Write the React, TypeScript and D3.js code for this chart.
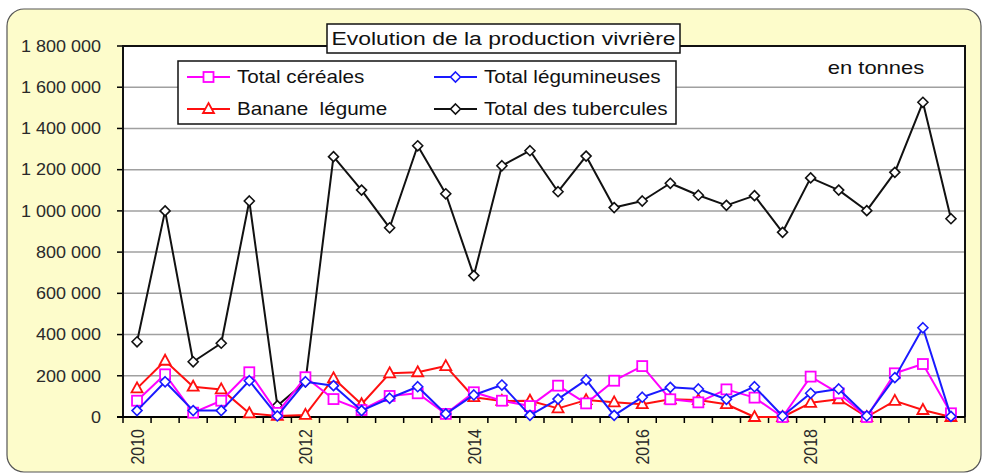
import React from "react";
import * as d3 from "d3";

const categories = [
  "2010", "2010", "2010", "2011", "2011", "2011",
  "2012", "2012", "2012", "2013", "2013", "2013",
  "2014", "2014", "2014", "2015", "2015", "2015",
  "2016", "2016", "2016", "2017", "2017", "2017",
  "2018", "2018", "2018", "2019", "2019", "2019",
];

const cereales = [79000, 207000, 21000, 79000, 217000, 20000, 193000, 87000, 34000, 102000, 115000, 15000, 120000, 79000, 53000, 152000, 66000, 176000, 247000, 86000, 71000, 134000, 94000, 0, 196000, 115000, 0, 212000, 257000, 18000];
const legumineuses = [31000, 171000, 31000, 31000, 176000, 5000, 171000, 152000, 31000, 91000, 147000, 15000, 107000, 155000, 8000, 87000, 180000, 8000, 96000, 144000, 136000, 86000, 147000, 5000, 115000, 136000, 5000, 191000, 433000, 3000];
const banane = [139000, 273000, 147000, 134000, 18000, 5000, 10000, 188000, 62000, 212000, 217000, 247000, 96000, 78000, 79000, 42000, 82000, 71000, 62000, 86000, 82000, 62000, 0, 0, 69000, 86000, 0, 78000, 34000, 0];
const tubercules = [365000, 1000000, 268000, 358000, 1048000, 55000, 171000, 1263000, 1101000, 918000, 1316000, 1083000, 686000, 1219000, 1292000, 1093000, 1266000, 1016000, 1048000, 1134000, 1076000, 1027000, 1074000, 896000, 1160000, 1101000, 1001000, 1187000, 1527000, 962000];

const yTicks = [0, 200000, 400000, 600000, 800000, 1000000, 1200000, 1400000, 1600000, 1800000];
const labelEvery = 6;

const title = "Evolution de la production vivrière";
const unitLabel = "en tonnes";

type Series = { name: string; values: number[]; color: string; marker: "square" | "diamond" | "triangle" };
const series: Series[] = [
  { name: "Total céréales", values: cereales, color: "#ff00ff", marker: "square" },
  { name: "Total légumineuses", values: legumineuses, color: "#1a1aff", marker: "diamond" },
  { name: "Banane  légume", values: banane, color: "#ff1010", marker: "triangle" },
  { name: "Total des tubercules", values: tubercules, color: "#111111", marker: "diamond" },
];
const drawOrder = [3, 2, 0, 1];

const W = 987, H = 474;
const plot = { left: 123, right: 965, top: 46, bottom: 417 };
const FONT = "Arial, 'Liberation Sans', sans-serif";

function Marker({ type, x, y, color }: { type: string; x: number; y: number; color: string }) {
  if (type === "square") {
    return <rect x={x - 5} y={y - 5} width={10} height={10} fill="#fff" stroke={color} strokeWidth={1.8} />;
  }
  if (type === "triangle") {
    const p = `${x},${y - 6} ${x + 5.5},${y + 4} ${x - 5.5},${y + 4}`;
    return <polygon points={p} fill="#fff" stroke={color} strokeWidth={1.8} />;
  }
  const p = `${x},${y - 5} ${x + 5},${y} ${x},${y + 5} ${x - 5},${y}`;
  return <polygon points={p} fill="#fff" stroke={color} strokeWidth={1.6} />;
}

function SText({ x, y, sx, size, anchor, children, fill = "#111" }: any) {
  return (
    <text
      transform={`translate(${x},${y}) scale(${sx},1)`}
      textAnchor={anchor}
      dy="0.35em"
      fontSize={size}
      fill={fill}
      style={{ whiteSpace: "pre" }}
    >
      {children}
    </text>
  );
}

export default function App() {
  const idx = categories.map((_, i) => i);
  const x = d3.scaleBand<number>().domain(idx).range([plot.left, plot.right]);
  const y = d3.scaleLinear().domain([0, 1800000]).range([plot.bottom, plot.top]);
  const cx = (i: number) => (x(i) as number) + x.bandwidth() / 2;
  const fmt = (v: number) => d3.format(",")(v).replace(/,/g, " ");
  const line = (vals: number[]) =>
    d3.line<number>().x((_, i) => cx(i)).y((v) => y(v))(vals) as string;

  const legendItems = [
    { s: series[0], lx: 187, ly: 77 },
    { s: series[1], lx: 434, ly: 77 },
    { s: series[2], lx: 187, ly: 109 },
    { s: series[3], lx: 434, ly: 109 },
  ];

  return (
    <div style={{ position: "absolute", left: 0, top: 0 }}>
      <svg width={W} height={H} style={{ display: "block" }} fontFamily={FONT}>
        <rect x={0} y={0} width={W} height={H} fill="#ffffff" />
        <rect x={7} y={9} width={974} height={463} rx={17} ry={17} fill="#fdfccb" stroke="#555" strokeWidth={1.2} />
        <rect x={plot.left} y={plot.top} width={plot.right - plot.left} height={plot.bottom - plot.top} fill="#ffffff" />
        {yTicks.map((t) => (
          <line key={"g" + t} x1={plot.left} x2={plot.right} y1={y(t)} y2={y(t)} stroke="#a0a0a0" strokeWidth={1.5} />
        ))}
        {yTicks.map((t) => (
          <g key={"yt" + t}>
            <line x1={plot.left - 6} x2={plot.left} y1={y(t)} y2={y(t)} stroke="#000" strokeWidth={1.5} />
            <SText x={101} y={y(t)} sx={1.09} size={16.5} anchor="end" fill="#2a2a2a">{fmt(t)}</SText>
          </g>
        ))}
        {idx.concat([categories.length]).map((i) => {
          const xx = plot.left + i * x.step();
          return <line key={"xt" + i} x1={xx} x2={xx} y1={plot.bottom} y2={plot.bottom + 6} stroke="#000" strokeWidth={1.5} />;
        })}
        {idx.filter((i) => i % labelEvery === 0).map((i) => (
          <text key={"xl" + i} transform={`translate(${cx(i)},${plot.bottom + 12}) rotate(-90) scale(1,1.2)`} textAnchor="end" dy="0.35em" fontSize={16} fill="#2a2a2a">
            {categories[i]}
          </text>
        ))}
        <path d={`M${plot.left},${plot.bottom}V${plot.top}H${plot.right}V${plot.bottom}`} fill="none" stroke="#111" strokeWidth={2} />
        <line x1={plot.left - 6} x2={plot.right} y1={plot.bottom} y2={plot.bottom} stroke="#000" strokeWidth={2} />

        {drawOrder.map((k) => {
          const s = series[k];
          return (
            <g key={s.name}>
              <path d={line(s.values)} fill="none" stroke={s.color} strokeWidth={2} strokeLinejoin="round" />
              {s.values.map((v, i) => (
                <Marker key={i} type={s.marker} x={cx(i)} y={y(v)} color={s.color} />
              ))}
            </g>
          );
        })}

        <rect x={327} y={24} width={353} height={29} fill="#ffffff" stroke="#111" strokeWidth={1.5} />
        <SText x={503.5} y={39} sx={1.24} size={18.5} anchor="middle">{title}</SText>

        <rect x={178} y={61} width={498} height={63} fill="#ffffff" stroke="#111" strokeWidth={1.5} />
        {legendItems.map(({ s, lx, ly }) => (
          <g key={"lg" + s.name}>
            <line x1={lx} x2={lx + 43} y1={ly} y2={ly} stroke={s.color} strokeWidth={2} />
            <Marker type={s.marker} x={lx + 21.5} y={ly} color={s.color} />
            <SText x={lx + 50} y={ly} sx={1.18} size={17.5} anchor="start">{s.name}</SText>
          </g>
        ))}

        <SText x={876} y={68} sx={1.22} size={18} anchor="middle">{unitLabel}</SText>
      </svg>
    </div>
  );
}
